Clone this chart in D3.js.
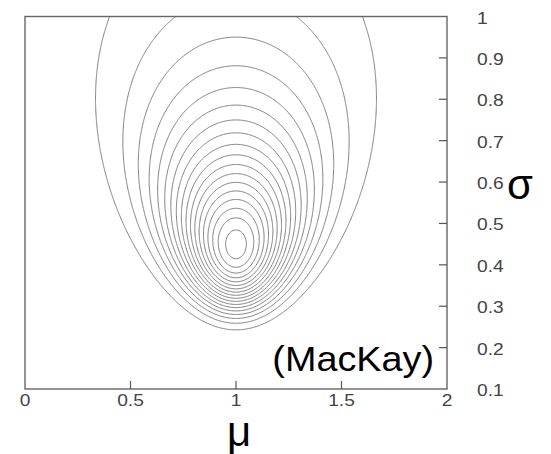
<!DOCTYPE html>
<meta charset="utf-8">
<style>
    body { margin: 0; background: #fff; }
    .contour { fill: none; stroke: #7c7c7c; stroke-width: 1px; }
    .frame { fill: none; stroke: #666; stroke-width: 1.4px; }
    .tick { stroke: #555; stroke-width: 1.2px; }
    .tickLabel { font-family: "Liberation Sans", Arial, sans-serif; font-size: 16px; fill: #444; }
    .axisLabel { font-family: "Liberation Sans", Arial, sans-serif; fill: #000; }
</style>
<svg width="551" height="454"></svg>
<script src="https://cdn.jsdelivr.net/npm/d3@7"></script>
<script>
    // sample the likelihood is built from (N points, mean, sum of squares)
    var sampleN = 5;
    var sampleMean = 1.0;
    var sampleS = 1.0;

    // contour levels of the likelihood
    var levels = [0.0025, 0.005, 0.0075, 0.01, 0.0125, 0.015, 0.0175, 0.02, 0.0225,
                  0.025, 0.0275, 0.03, 0.0325, 0.035, 0.0375, 0.04, 0.0425, 0.045];

    var muTicks = [0, 0.5, 1, 1.5, 2];
    var sigmaTicks = [0.1, 0.2, 0.3, 0.4, 0.5, 0.6, 0.7, 0.8, 0.9, 1];

    var svg = d3.select("svg");
    var plotLeft = 25, plotRight = 447, plotTop = 16.5, plotBottom = 389;

    var x = d3.scaleLinear().domain([0, 2]).range([plotLeft, plotRight]);
    var y = d3.scaleLinear().domain([0.1, 1]).range([plotBottom, plotTop]);

    function likelihood(mu, sigma) {
        var s2 = sigma * sigma;
        return Math.pow(2 * Math.PI * s2, -sampleN / 2) *
            Math.exp(-(sampleN * (mu - sampleMean) * (mu - sampleMean) + sampleS) / (2 * s2));
    }

    // grid a bit larger than the frame, clipped later
    var muLo = -0.05, muHi = 2.05, sgLo = 0.08, sgHi = 1.03;
    var nx = 520, ny = 420;
    var dm = (muHi - muLo) / (nx - 1), ds = (sgHi - sgLo) / (ny - 1);
    var values = new Array(nx * ny);
    for (var j = 0; j < ny; j++) {
        for (var i = 0; i < nx; i++) {
            values[j * nx + i] = likelihood(muLo + i * dm, sgLo + j * ds);
        }
    }

    var contours = d3.contours().size([nx, ny]).thresholds(levels)(values);

    var toScreen = d3.geoTransform({
        point: function (px, py) {
            this.stream.point(x(muLo + (px - 0.5) * dm), y(sgLo + (py - 0.5) * ds));
        }
    });
    var path = d3.geoPath(toScreen);

    svg.append("clipPath").attr("id", "plotClip")
        .append("rect")
        .attr("x", plotLeft).attr("y", plotTop)
        .attr("width", plotRight - plotLeft).attr("height", plotBottom - plotTop);

    svg.append("g")
        .attr("clip-path", "url(#plotClip)")
        .selectAll("path")
        .data(contours)
        .enter().append("path")
        .attr("class", "contour")
        .attr("d", path);

    // frame
    svg.append("rect")
        .attr("class", "frame")
        .attr("x", plotLeft).attr("y", plotTop)
        .attr("width", plotRight - plotLeft).attr("height", plotBottom - plotTop);

    // ticks: bottom ones point up, right ones point left
    svg.append("g").selectAll("line")
        .data(muTicks.slice(1, -1))
        .enter().append("line")
        .attr("class", "tick")
        .attr("x1", function (d) { return x(d); })
        .attr("x2", function (d) { return x(d); })
        .attr("y1", plotBottom)
        .attr("y2", plotBottom - 8);

    svg.append("g").selectAll("line")
        .data(sigmaTicks.slice(1, -1))
        .enter().append("line")
        .attr("class", "tick")
        .attr("x1", plotRight)
        .attr("x2", plotRight - 8)
        .attr("y1", function (d) { return y(d); })
        .attr("y2", function (d) { return y(d); });

    svg.append("g").selectAll("text")
        .data(muTicks)
        .enter().append("text")
        .attr("class", "tickLabel")
        .attr("text-anchor", "middle")
        .attr("transform", function (d) { return "translate(" + x(d) + "," + 406 + ") scale(1.2,1)"; })
        .text(function (d) { return d; });

    svg.append("g").selectAll("text")
        .data(sigmaTicks)
        .enter().append("text")
        .attr("class", "tickLabel")
        .attr("transform", function (d) { return "translate(" + 477 + "," + (y(d) + 7) + ") scale(1.2,1)"; })
        .text(function (d) { return d; });

    svg.append("text")
        .attr("class", "axisLabel")
        .attr("text-anchor", "middle")
        .attr("font-size", 42)
        .attr("x", 239).attr("y", 446)
        .text("μ");

    svg.append("text")
        .attr("class", "axisLabel")
        .attr("font-size", 42)
        .attr("x", 507).attr("y", 199)
        .text("σ");

    svg.append("text")
        .attr("class", "axisLabel")
        .attr("text-anchor", "end")
        .attr("font-size", 35)
        .attr("transform", "translate(434,371) scale(1.08,1)")
        .text("(MacKay)");
</script>
